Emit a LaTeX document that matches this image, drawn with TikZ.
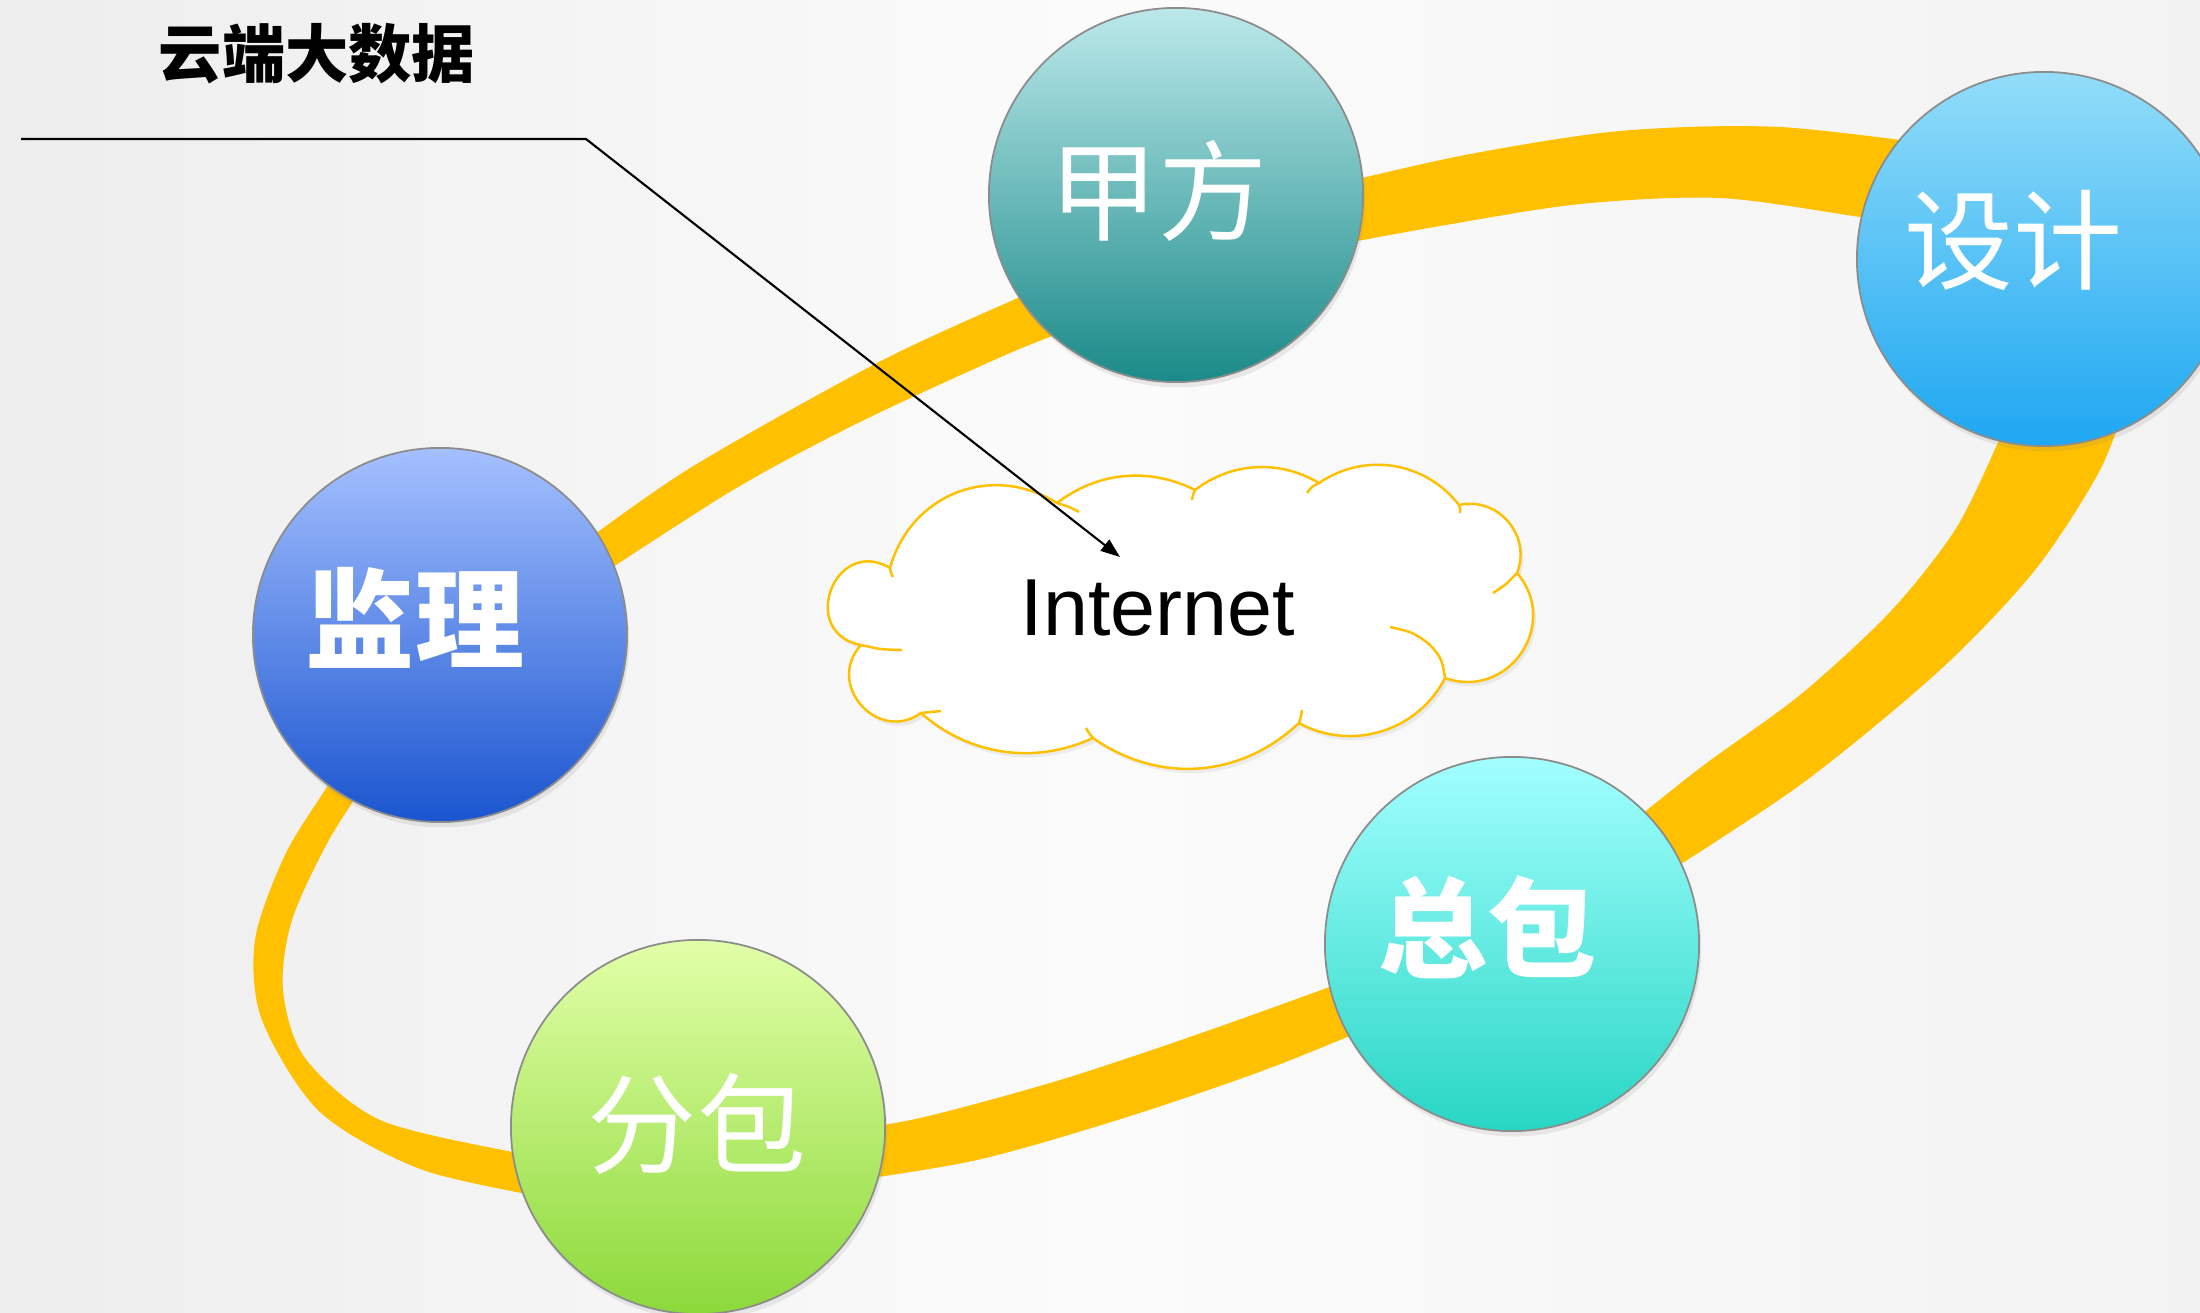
\documentclass[tikz,border=0pt]{standalone}
\usepackage{fontspec}
\setmainfont{Liberation Sans}
\newfontfamily\cjk{Noto Sans CJK SC}
\usetikzlibrary{arrows.meta,shadows,calc}
\definecolor{bandyellow}{HTML}{FFC000}
\definecolor{jiatop}{HTML}{BCE9EB}
\definecolor{jiabot}{HTML}{1A8A88}
\definecolor{shetop}{HTML}{92DDF9}
\definecolor{shebot}{HTML}{1EA7F2}
\definecolor{jiantop}{HTML}{A5C0FF}
\definecolor{jianbot}{HTML}{1A55CF}
\definecolor{zongtop}{HTML}{A2FFFF}
\definecolor{zongbot}{HTML}{28D6C4}
\definecolor{fentop}{HTML}{E2FFA8}
\definecolor{fenbot}{HTML}{8CD93A}

\begin{document}
\begin{tikzpicture}[x=0.01cm, y=-0.01cm,
    role/.style={circle, draw=black!45, line width=0.5pt, minimum size=3.74cm, inner sep=0pt,
        drop shadow={opacity=0.15, shadow xshift=0.6pt, shadow yshift=-1.5pt}},
    rolelabel/.style={text=white, font=\cjk\fontsize{31}{31}\selectfont},
    cloudline/.style={draw=bandyellow, line width=0.7pt}]
    \useasboundingbox (0,0) rectangle (2200,1312);
    \shade[left color=black!7, right color=black!5, middle color=black!1.5] (0,0) rectangle (2200,1312);

    % Yellow ring (one piece between each pair of roles)
    \fill[bandyellow] plot[smooth] coordinates {(560,1200) (423,1170) (320,1112) (262,1020) (255,940) (285,855) (327,787) (352,750)}
        -- plot[smooth] coordinates {(378,765) (330,838) (292,920) (283,990) (305,1058) (380,1120) (517,1153) (560,1160)} -- cycle;
    \fill[bandyellow] plot[smooth] coordinates {(560,560) (687,470) (877,363) (1020,297) (1080,272)}
        -- plot[smooth] coordinates {(1100,318) (1010,353) (860,422) (733,490) (575,592)} -- cycle;
    \fill[bandyellow] plot[smooth] coordinates {(1320,188) (1465,155) (1620,131) (1780,127) (1960,148)}
        -- plot[smooth] coordinates {(1960,232) (1860,217) (1720,198) (1580,204) (1440,226) (1320,248)} -- cycle;
    \fill[bandyellow] plot[smooth] coordinates {(2128,395) (2100,470) (2035,570) (1940,670) (1800,785) (1640,890)}
        -- plot[smooth] coordinates {(1610,840) (1700,768) (1800,695) (1890,612) (1955,530) (1996,447) (2010,410)} -- cycle;
    \fill[bandyellow] plot[smooth] coordinates {(1390,965) (1210,1030) (1060,1080) (920,1118) (830,1133)}
        -- plot[smooth] coordinates {(830,1184) (977,1160) (1127,1117) (1270,1068) (1400,1015)} -- cycle;

    % Roles
    \node[role, top color=jiatop, bottom color=jiabot] (jiafang) at (1176,195) {};
    \node[role, top color=shetop, bottom color=shebot] (sheji) at (2044,259) {};
    \node[role, top color=jiantop, bottom color=jianbot] (jianli) at (440,635) {};
    \node[role, top color=zongtop, bottom color=zongbot] (zongbao) at (1512,944) {};
    \node[role, top color=fentop, bottom color=fenbot] (fenbao) at (698,1127) {};
    \node[rolelabel] at ($(jiafang)+(-18,-4)$) {甲方};
    \node[rolelabel] at ($(sheji)+(-31,-19)$) {设计};
    \node[rolelabel] at ($(jianli)+(-25,-17)$) {\bfseries 监理};
    \node[rolelabel] at ($(zongbao)+(-25,-17)$) {\bfseries 总包};
    \node[rolelabel] at ($(fenbao)+(-1,-3)$) {分包};

    % Cloud
    \draw[cloudline, fill=white, drop shadow={opacity=0.12, shadow xshift=0.8pt, shadow yshift=-1.2pt}]
        (890,568) to[bend left=53, looseness=1.1] (1057,503)
        to[bend left=32, looseness=0.95] (1195,490)
        to[bend left=34, looseness=0.95] (1319,483)
        to[bend left=43, looseness=1] (1459,505)
        to[bend left=62, looseness=1.15] (1517,573)
        to[bend left=75, looseness=1.35] (1445,678)
        to[bend left=46, looseness=1] (1299,723)
        to[bend left=39, looseness=1] (1093,738)
        to[bend left=33, looseness=0.95] (921,713)
        to[bend left=84, looseness=1.5] (861,645)
        to[bend left=100, looseness=2] (890,568) -- cycle;
    \draw[cloudline] plot[smooth] coordinates {(1057,503) (1069,507) (1079,512)};
    \draw[cloudline] plot[smooth] coordinates {(1195,490) (1193,495) (1192,500)};
    \draw[cloudline] plot[smooth] coordinates {(1319,483) (1312,487) (1307,493)};
    \draw[cloudline] plot[smooth] coordinates {(1459,505) (1460,509) (1460,513)};
    \draw[cloudline] plot[smooth] coordinates {(1517,573) (1506,584) (1493,593)};
    \draw[cloudline] plot[smooth] coordinates {(1445,678) (1441,660) (1430,645) (1412,633) (1390,627)};
    \draw[cloudline] plot[smooth] coordinates {(1299,723) (1301,716) (1302,710)};
    \draw[cloudline] plot[smooth] coordinates {(1093,738) (1089,733) (1086,728)};
    \draw[cloudline] plot[smooth] coordinates {(921,713) (931,712) (941,711)};
    \draw[cloudline] plot[smooth] coordinates {(861,645) (881,649) (902,650)};
    \draw[cloudline] plot[smooth] coordinates {(890,568) (891,573) (893,577)};
    \node[font=\fontsize{23}{23}\selectfont] (internet) at (1158,608) {Internet};

    % Title and leader
    \node[font=\cjk\bfseries\fontsize{18}{18}\selectfont] (bigdata) at (317,54) {云端大数据};
    \coordinate (leadstart) at (21,139);
    \coordinate (leadbend) at (586,139);
    \coordinate (leadtip) at (1120,557);
    \draw[line width=0.6pt, -{Triangle[length=5.5pt, width=4pt]}] (leadstart) -- (leadbend) -- (leadtip);
\end{tikzpicture}
\end{document}
